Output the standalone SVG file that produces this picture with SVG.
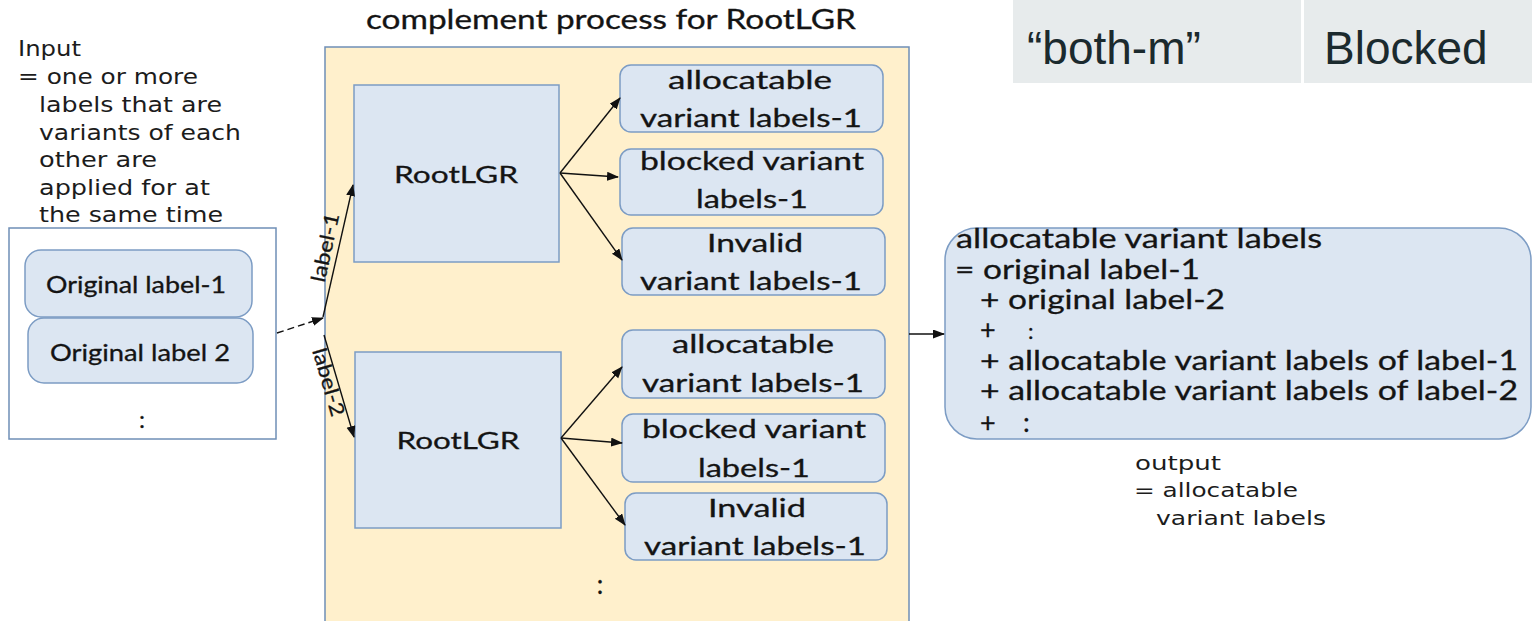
<svg xmlns="http://www.w3.org/2000/svg" width="1532" height="621" viewBox="0 0 1532 621">
  <style>
    .cal { font-family: Lato, "Liberation Sans", sans-serif; fill: #141414; stroke: #141414; stroke-width: 0.3; }
    .thin { font-family: "DejaVu Sans", "Liberation Sans", sans-serif; fill: #1c1c1c; }
    .mid { text-anchor: middle; }
    .box { fill: #dce6f2; stroke: #7c9cc4; stroke-width: 1.5; }
    .cell { fill: #e7ebec; }
    .cellText { font-family: "Liberation Sans", Arial, sans-serif; font-size: 46px; fill: #1b2a2e; }
    .conn { stroke: #111; stroke-width: 1.4; fill: none; marker-end: url(#arrow); }
  </style>
  <defs>
    <marker id="arrow" markerUnits="userSpaceOnUse" markerWidth="12" markerHeight="10" refX="11" refY="4.5" orient="auto">
      <path d="M0,0 L12,4.5 L0,9 z" fill="#111"/>
    </marker>
  </defs>

  <rect width="1532" height="621" fill="#ffffff"/>

  <!-- status table cells -->
  <g id="cell-both-m">
    <rect class="cell" x="1013" y="0" width="288" height="83"/>
    <text class="cellText" x="1027" y="64">“both-m”</text>
  </g>
  <g id="cell-blocked">
    <rect class="cell" x="1304" y="0" width="228" height="83"/>
    <text class="cellText" x="1324" y="64">Blocked</text>
  </g>

  <!-- input description -->
  <g id="input-note">
    <text class="thin" font-size="22" x="18" y="56" textLength="63" lengthAdjust="spacingAndGlyphs">Input</text>
    <text class="thin" font-size="22" x="18" y="84" textLength="180" lengthAdjust="spacingAndGlyphs">= one or more</text>
    <text class="thin" font-size="22" x="39" y="112" textLength="183" lengthAdjust="spacingAndGlyphs">labels that are</text>
    <text class="thin" font-size="22" x="39" y="140" textLength="202" lengthAdjust="spacingAndGlyphs">variants of each</text>
    <text class="thin" font-size="22" x="39" y="167" textLength="118" lengthAdjust="spacingAndGlyphs">other are</text>
    <text class="thin" font-size="22" x="39" y="195" textLength="171" lengthAdjust="spacingAndGlyphs">applied for at</text>
    <text class="thin" font-size="22" x="39" y="222" textLength="184" lengthAdjust="spacingAndGlyphs">the same time</text>
  </g>

  <!-- input labels -->
  <g id="input-box">
    <rect x="9" y="228" width="267" height="211" fill="#ffffff" stroke="#6f8fb6" stroke-width="1.5"/>
    <text class="cal mid" font-size="24" x="142" y="428">:</text>
  </g>
  <g id="original-label-1">
    <rect class="box" x="25" y="250" width="227" height="67" rx="16"/>
    <text class="cal mid" font-size="23" x="136" y="293" textLength="180" lengthAdjust="spacingAndGlyphs">Original label-1</text>
  </g>
  <g id="original-label-2">
    <rect class="box" x="28" y="318" width="225" height="65" rx="16"/>
    <text class="cal mid" font-size="23" x="140" y="361" textLength="180" lengthAdjust="spacingAndGlyphs">Original label 2</text>
  </g>

  <!-- complement process container -->
  <g id="complement-process">
    <text class="cal mid" font-size="26" x="611" y="29" textLength="490" lengthAdjust="spacingAndGlyphs">complement process for RootLGR</text>
    <rect x="325" y="47" width="584" height="590" fill="#fff0cc" stroke="#6f8fb6" stroke-width="1.5"/>
    <text class="cal mid" font-size="26" x="600" y="594">:</text>
  </g>

  <g id="rootlgr-1">
    <rect x="354" y="85" width="205" height="177" fill="#dce6f2" stroke="#7c9cc4" stroke-width="1.5"/>
    <text class="cal mid" font-size="24" x="456" y="183" textLength="124" lengthAdjust="spacingAndGlyphs">RootLGR</text>
  </g>
  <g id="rootlgr-2">
    <rect x="355" y="352" width="206" height="176" fill="#dce6f2" stroke="#7c9cc4" stroke-width="1.5"/>
    <text class="cal mid" font-size="24" x="458" y="449" textLength="123" lengthAdjust="spacingAndGlyphs">RootLGR</text>
  </g>

  <!-- results for label-1 -->
  <g id="allocatable-1a">
    <rect class="box" x="620" y="65" width="263" height="67" rx="11"/>
    <text class="cal mid" font-size="25" x="750" y="89" textLength="164" lengthAdjust="spacingAndGlyphs">allocatable</text>
    <text class="cal mid" font-size="25" x="751" y="127" textLength="222" lengthAdjust="spacingAndGlyphs">variant labels-1</text>
  </g>
  <g id="blocked-1a">
    <rect class="box" x="620" y="149" width="263" height="66" rx="11"/>
    <text class="cal mid" font-size="25" x="752" y="170" textLength="224" lengthAdjust="spacingAndGlyphs">blocked variant</text>
    <text class="cal mid" font-size="25" x="752" y="208" textLength="112" lengthAdjust="spacingAndGlyphs">labels-1</text>
  </g>
  <g id="invalid-1a">
    <rect class="box" x="622" y="228" width="263" height="67" rx="11"/>
    <text class="cal mid" font-size="25" x="755" y="252" textLength="96" lengthAdjust="spacingAndGlyphs">Invalid</text>
    <text class="cal mid" font-size="25" x="751" y="290" textLength="222" lengthAdjust="spacingAndGlyphs">variant labels-1</text>
  </g>

  <!-- results for label-2 -->
  <g id="allocatable-1b">
    <rect class="box" x="622" y="330" width="263" height="68" rx="11"/>
    <text class="cal mid" font-size="25" x="753" y="353" textLength="162" lengthAdjust="spacingAndGlyphs">allocatable</text>
    <text class="cal mid" font-size="25" x="753" y="392" textLength="222" lengthAdjust="spacingAndGlyphs">variant labels-1</text>
  </g>
  <g id="blocked-1b">
    <rect class="box" x="622" y="414" width="263" height="68" rx="11"/>
    <text class="cal mid" font-size="25" x="754" y="438" textLength="224" lengthAdjust="spacingAndGlyphs">blocked variant</text>
    <text class="cal mid" font-size="25" x="754" y="477" textLength="112" lengthAdjust="spacingAndGlyphs">labels-1</text>
  </g>
  <g id="invalid-1b">
    <rect class="box" x="625" y="493" width="262" height="67" rx="11"/>
    <text class="cal mid" font-size="25" x="757" y="517" textLength="98" lengthAdjust="spacingAndGlyphs">Invalid</text>
    <text class="cal mid" font-size="25" x="755" y="555" textLength="222" lengthAdjust="spacingAndGlyphs">variant labels-1</text>
  </g>

  <!-- combined result -->
  <g id="allocatable-result">
    <rect class="box" x="945" y="228" width="586" height="211" rx="32"/>
    <text class="cal" font-size="27" x="956" y="248" textLength="366" lengthAdjust="spacingAndGlyphs">allocatable variant labels</text>
    <text class="cal" font-size="27" x="955" y="279" textLength="245" lengthAdjust="spacingAndGlyphs">= original label-1</text>
    <text class="cal" font-size="27" x="980" y="309" textLength="245" lengthAdjust="spacingAndGlyphs">+ original label-2</text>
    <text class="cal" font-size="27" x="980" y="339">+</text>
    <text class="cal" font-size="22" x="1028" y="339">:</text>
    <text class="cal" font-size="27" x="980" y="370" textLength="538" lengthAdjust="spacingAndGlyphs">+ allocatable variant labels of label-1</text>
    <text class="cal" font-size="27" x="980" y="400" textLength="538" lengthAdjust="spacingAndGlyphs">+ allocatable variant labels of label-2</text>
    <text class="cal" font-size="27" x="980" y="432">+</text>
    <text class="cal" font-size="27" x="1023" y="432">:</text>
  </g>

  <g id="output-note">
    <text class="thin" font-size="20" x="1135" y="470" textLength="86" lengthAdjust="spacingAndGlyphs">output</text>
    <text class="thin" font-size="20" x="1134" y="497" textLength="164" lengthAdjust="spacingAndGlyphs">= allocatable</text>
    <text class="thin" font-size="20" x="1156" y="525" textLength="170" lengthAdjust="spacingAndGlyphs">variant labels</text>
  </g>

  <!-- connectors -->
  <g id="connectors">
    <line class="conn" x1="277" y1="333" x2="323" y2="318" stroke-dasharray="7 4"/>
    <line class="conn" x1="323" y1="317" x2="353" y2="185"/>
    <line class="conn" x1="324" y1="335" x2="354" y2="437"/>
    <text class="cal mid" font-size="20" transform="translate(332,249) rotate(-77.6)" textLength="70" lengthAdjust="spacingAndGlyphs">label-1</text>
    <text class="cal mid" font-size="20" transform="translate(322,384) rotate(73.6)" textLength="70" lengthAdjust="spacingAndGlyphs">label-2</text>

    <line class="conn" x1="560" y1="173" x2="620" y2="98"/>
    <line class="conn" x1="560" y1="173" x2="618" y2="177"/>
    <line class="conn" x1="560" y1="173" x2="622" y2="260"/>

    <line class="conn" x1="561" y1="438" x2="622" y2="367"/>
    <line class="conn" x1="561" y1="438" x2="622" y2="443"/>
    <line class="conn" x1="561" y1="438" x2="625" y2="525"/>

    <line class="conn" x1="909" y1="334" x2="944" y2="334"/>
  </g>
</svg>
